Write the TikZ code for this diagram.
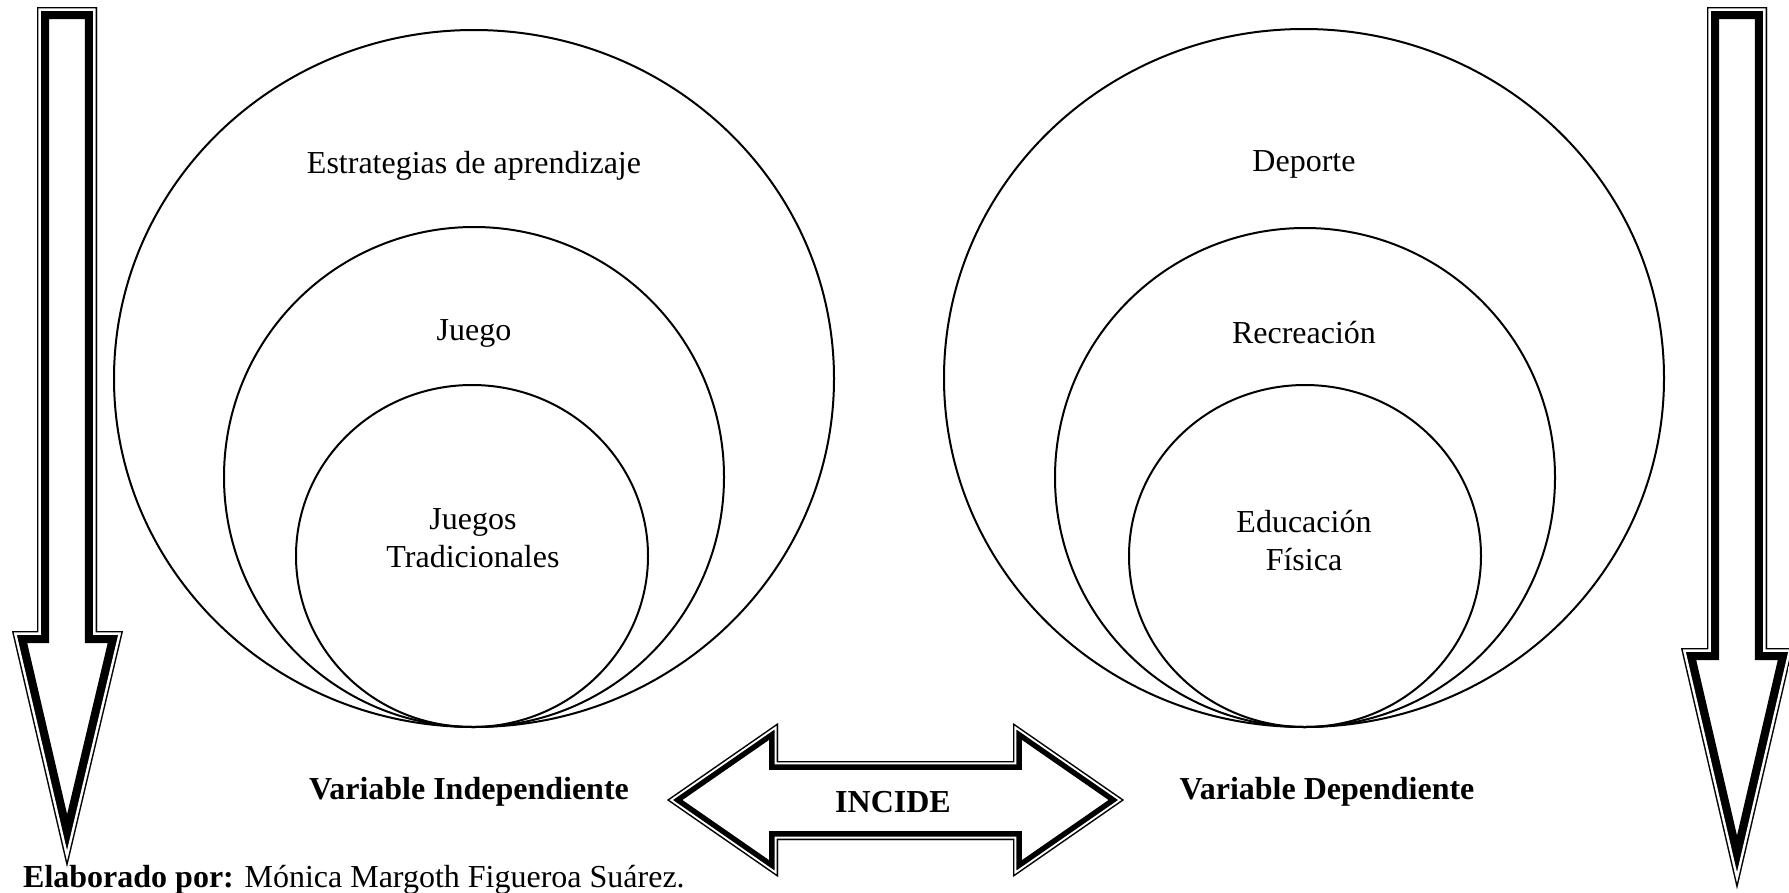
\documentclass[tikz,border=0pt]{standalone}
\usepackage{fontspec}
\setmainfont{Liberation Serif}

% Outline of a block arrow drawn as a thin outer line, a white gap and a thick
% inner line, all kept inside the outline.
% #1 outline path, #2 total band width x2, #3 (thin+gap) x2, #4 thin x2
\newcommand{\bandedarrow}[4]{%
  \begin{scope}
    \clip #1;
    \fill[white] #1;
    \draw[black, line width=#2pt, line join=miter] #1;
    \draw[white, line width=#3pt, line join=miter] #1;
    \draw[black, line width=#4pt, line join=miter] #1;
  \end{scope}}

\tikzset{
  ring/.style={draw=black, line width=2pt},
  lbl/.style={font=\fontsize{32}{38}\selectfont, inner sep=0pt, align=center, anchor=base},
  boldlbl/.style={lbl, font=\fontsize{32}{38}\selectfont\bfseries},
}

\begin{document}
\begin{tikzpicture}[x=1pt, y=-1pt]
  \useasboundingbox (0,0) rectangle (1789,892);

  % left nested circles
  \draw[ring] (474,378.5) ellipse [x radius=360pt, y radius=348.5pt];
  \draw[ring] (474,477) ellipse [x radius=250pt, y radius=250pt];
  \draw[ring] (472,556) ellipse [x radius=176pt, y radius=171pt];

  % right nested circles
  \draw[ring] (1304,378) ellipse [x radius=360pt, y radius=349pt];
  \draw[ring] (1305,477.5) ellipse [x radius=250pt, y radius=249.5pt];
  \draw[ring] (1305,556) ellipse [x radius=176pt, y radius=171pt];

  % left downward arrow
  \bandedarrow{(37,7) -- (97,7) -- (97,631) -- (123,631) -- (67,867) -- (12,631) -- (37,631) -- cycle}{24.2}{7.6}{2.6}
  % right downward arrow
  \bandedarrow{(1707,7) -- (1767,7) -- (1767,648) -- (1793,648) -- (1737,889) -- (1681,648) -- (1707,648) -- cycle}{24.2}{7.6}{2.6}
  % two-headed arrow
  \bandedarrow{(667,800) -- (778,723) -- (778,761) -- (1013,761) -- (1013,723) -- (1124,800) -- (1013,877) -- (1013,840) -- (778,840) -- (778,877) -- cycle}{17.6}{6.6}{2.6}

  % labels (multi-line labels sit on the baseline of their last line)
  \node[lbl] (estr) at (474,173) {Estrategias de aprendizaje};
  \node[lbl] (juego) at (474,340) {Juego};
  \node[lbl] (jtrad) at (473,567) {Juegos\\Tradicionales};
  \node[lbl] (dep) at (1304,171) {Deporte};
  \node[lbl] (recr) at (1304,343) {Recreación};
  \node[lbl] (edfis) at (1304,570) {Educación\\Física};
  \node[boldlbl] (vind) at (469,799) {Variable Independiente};
  \node[boldlbl] (incide) at (893,812) {INCIDE};
  \node[boldlbl] (vdep) at (1327,799) {Variable Dependiente};
  \node[lbl, anchor=base west] (autor) at (23,887) {\textbf{Elaborado por:} Mónica Margoth Figueroa Suárez.};
\end{tikzpicture}
\end{document}
